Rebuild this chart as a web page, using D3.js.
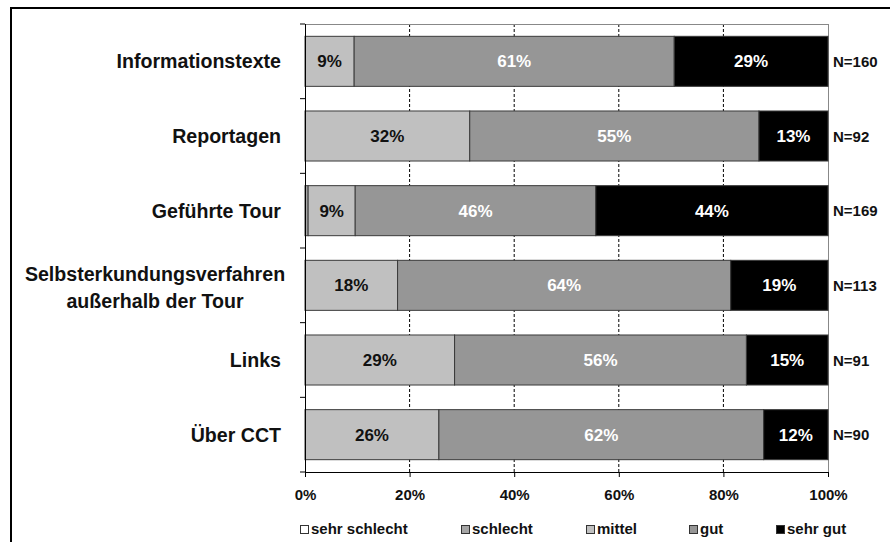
<!DOCTYPE html>
<html><head><meta charset="utf-8">
<script src="https://cdn.jsdelivr.net/npm/d3@7"></script>
<style>body{margin:0;background:#fff;} svg{display:block;font-family:"Liberation Sans",Arial,sans-serif;}</style>
</head><body>
<svg id="c" width="890" height="542"></svg>
<script>
const categories = ["Informationstexte","Reportagen","Geführte Tour","Selbsterkundungsverfahren\naußerhalb der Tour","Links","Über CCT"];
const seriesNames = ["sehr schlecht","schlecht","mittel","gut","sehr gut"];
const sehrSchlecht = [0,0,0,0,0,0];
const schlecht = [0,0,0.6,0,0,0];
const mittel = [9.4,31.5,9.0,17.7,28.6,25.6];
const gut = [61.2,55.3,46.0,63.7,55.8,62.1];
const sehrGut = [29.4,13.2,44.4,18.6,15.6,12.3];
const labelsMittel = ["9%","32%","9%","18%","29%","26%"];
const labelsGut = ["61%","55%","46%","64%","56%","62%"];
const labelsSehrGut = ["29%","13%","44%","19%","15%","12%"];
const nLabels = ["N=160","N=92","N=169","N=113","N=91","N=90"];
const xTicks = [0,20,40,60,80,100];
const colors = ["#ffffff","#a6a6a6","#c0c0c0","#969696","#000000"];

const svg = d3.select("#c");
// outer frame
svg.append("rect").attr("x",11).attr("y",8).attr("width",900).attr("height",600)
  .attr("fill","none").attr("stroke","#000").attr("stroke-width",2);

const L=305, R=828, T=24, B=472;
const x = d3.scaleLinear().domain([0,100]).range([L,R]);
const y = d3.scaleBand().domain(categories).range([T,B]).paddingInner(0.33).paddingOuter(0.165);

// gridlines
svg.append("g").selectAll("line").data(xTicks.filter(t=>t>0&&t<100)).join("line")
  .attr("x1",d=>x(d)).attr("x2",d=>x(d)).attr("y1",T).attr("y2",B)
  .attr("stroke","#000").attr("stroke-width",1).attr("stroke-dasharray","3,2");
// plot border top/right
svg.append("line").attr("x1",L).attr("x2",R).attr("y1",T+0.5).attr("y2",T+0.5).attr("stroke","#888");
svg.append("line").attr("x1",R+0.5).attr("x2",R+0.5).attr("y1",T).attr("y2",B).attr("stroke","#888");

const series = [sehrSchlecht,schlecht,mittel,gut,sehrGut];
const rows = categories.map((c,i)=>{const o={cat:c}; seriesNames.forEach((s,j)=>o[s]=series[j][i]); return o;});
const stacked = d3.stack().keys(seriesNames)(rows);
stacked.forEach((layer,j)=>{
  svg.append("g").selectAll("rect").data(layer.filter(d=>d[1]-d[0]>0)).join("rect")
    .attr("x",d=>x(d[0])).attr("width",d=>x(d[1])-x(d[0]))
    .attr("y",d=>y(d.data.cat)).attr("height",y.bandwidth())
    .attr("fill",colors[j]).attr("stroke","#3a3a3a").attr("stroke-width",1);
});

// value labels
const lab = [[2,labelsMittel,"#111"],[3,labelsGut,"#fff"],[4,labelsSehrGut,"#fff"]];
lab.forEach(([j,arr,col])=>{
  svg.append("g").selectAll("text").data(stacked[j]).join("text")
    .attr("x",d=>(x(d[0])+x(d[1]))/2).attr("y",d=>y(d.data.cat)+y.bandwidth()/2+6)
    .attr("text-anchor","middle").attr("font-size",17).attr("font-weight","bold").attr("fill",col)
    .text((d,i)=>arr[i]);
});

// N labels
svg.append("g").selectAll("text").data(categories).join("text")
  .attr("x",833).attr("y",d=>y(d)+y.bandwidth()/2+5.5)
  .attr("font-size",15).attr("font-weight","bold").attr("fill","#111").text((d,i)=>nLabels[i]);

// y axis
const yAxis = svg.append("g").attr("transform",`translate(${L},0)`);
yAxis.append("line").attr("x1",0.5).attr("x2",0.5).attr("y1",T).attr("y2",B).attr("stroke","#000");
const yTickPos = categories.map(c=>y(c)-y.step()*y.paddingInner()/2).concat([B]);
yAxis.selectAll("line.t").data(yTickPos).join("line").attr("class","t")
  .attr("x1",-5).attr("x2",0).attr("y1",d=>d).attr("y2",d=>d).attr("stroke","#000");
svg.append("g").selectAll("text").data(categories).join("text")
  .attr("text-anchor","middle").attr("font-size",19.6).attr("font-weight","bold").attr("fill","#111")
  .each(function(d){
    const lines=d.split("\n"); const el=d3.select(this);
    const cy=y(d)+y.bandwidth()/2;
    if(lines.length===1){ el.attr("text-anchor","end").attr("x",281).attr("y",cy+7).text(d); }
    else { lines.forEach((ln,k)=>el.append("tspan").attr("x",155).attr("y",cy-4+(k*27)).text(ln)); }
  });

// x axis
const xAxisG = svg.append("g").attr("transform",`translate(0,${B})`)
  .call(d3.axisBottom(x).tickValues(xTicks).tickFormat(d=>d+"%").tickSize(5).tickSizeOuter(0));
xAxisG.select(".domain").attr("stroke","#000");
xAxisG.selectAll("text").attr("font-size",15).attr("font-weight","bold").attr("fill","#111")
  .attr("y",28).attr("dy",0).attr("font-family","Liberation Sans, Arial, sans-serif");

// legend
const legX = [300,461,586,689,776];
const lg = svg.append("g");
seriesNames.forEach((s,j)=>{
  lg.append("rect").attr("x",legX[j]+0.5).attr("y",525.5).attr("width",8).attr("height",8)
    .attr("fill",colors[j]).attr("stroke","#333").attr("stroke-width",1);
  lg.append("text").attr("x",legX[j]+11).attr("y",534).attr("font-size",15).attr("font-weight","bold")
    .attr("fill","#111").text(s);
});
</script>
</body></html>
